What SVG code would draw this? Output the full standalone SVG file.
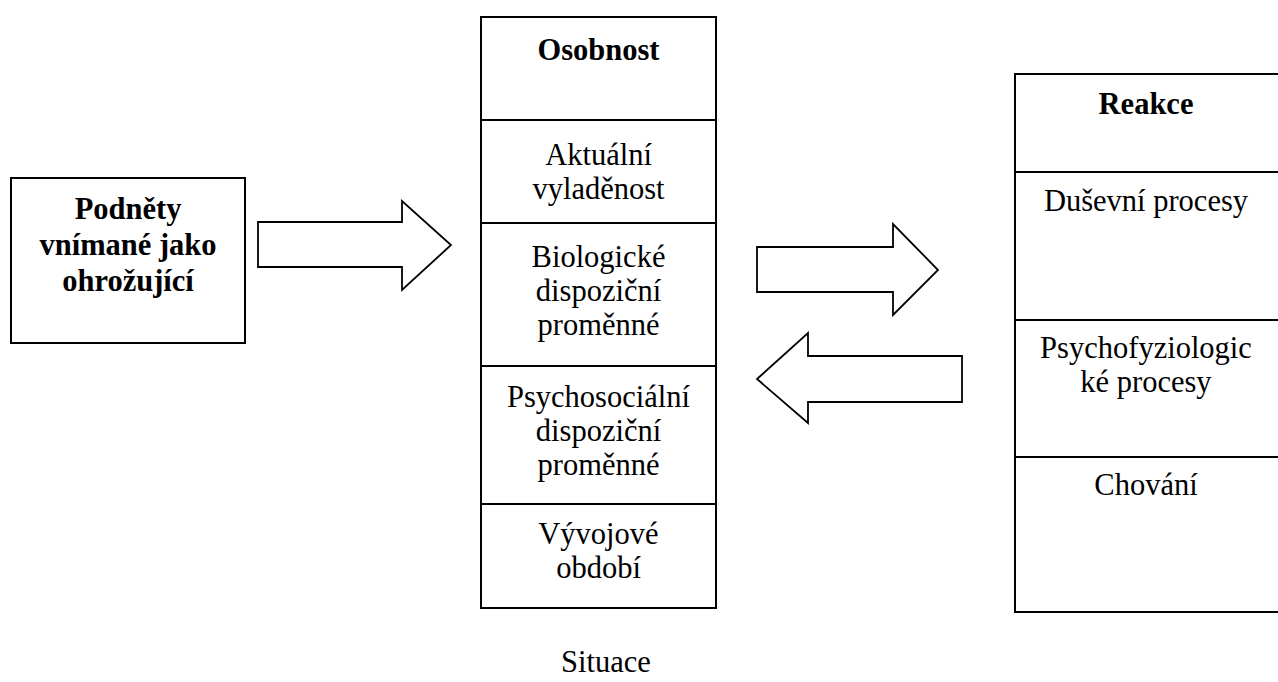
<svg xmlns="http://www.w3.org/2000/svg" width="1278" height="682" viewBox="0 0 1278 682">
<style>
.box{fill:#fff;stroke:#000;stroke-width:2}
.ln{stroke:#000;stroke-width:2}
.arr{fill:#fff;stroke:#000;stroke-width:1.8;stroke-linejoin:miter}
text{font-family:"Liberation Serif","Times New Roman",serif;font-size:30.5px;fill:#000;text-anchor:middle}
.b{font-weight:bold}
</style>
<rect width="1278" height="682" fill="#fff"/>
<g id="podnety">
<rect class="box" x="11" y="178" width="234" height="165"/>
<text class="b" x="128" y="219">Podněty</text>
<text class="b" x="128" y="255">vnímané jako</text>
<text class="b" x="128" y="291">ohrožující</text>
</g>
<g id="osobnost">
<rect class="box" x="481" y="17" width="235" height="591"/>
<line class="ln" x1="481" y1="120" x2="716" y2="120"/>
<line class="ln" x1="481" y1="223" x2="716" y2="223"/>
<line class="ln" x1="481" y1="366" x2="716" y2="366"/>
<line class="ln" x1="481" y1="504" x2="716" y2="504"/>
<text class="b" x="598.5" y="60">Osobnost</text>
<text x="598.5" y="165">Aktuální</text>
<text x="598.5" y="199">vyladěnost</text>
<text x="598.5" y="267">Biologické</text>
<text x="598.5" y="301">dispoziční</text>
<text x="598.5" y="335">proměnné</text>
<text x="598.5" y="407">Psychosociální</text>
<text x="598.5" y="441">dispoziční</text>
<text x="598.5" y="475">proměnné</text>
<text x="598.5" y="544">Vývojové</text>
<text x="598.5" y="578">období</text>
</g>
<g id="reakce">
<rect class="box" x="1015" y="74" width="270" height="538"/>
<line class="ln" x1="1015" y1="172" x2="1278" y2="172"/>
<line class="ln" x1="1015" y1="320" x2="1278" y2="320"/>
<line class="ln" x1="1015" y1="457" x2="1278" y2="457"/>
<text class="b" x="1146" y="114">Reakce</text>
<text x="1146" y="211">Duševní procesy</text>
<text x="1146" y="358">Psychofyziologic</text>
<text x="1146" y="392">ké procesy</text>
<text x="1146" y="495">Chování</text>
</g>
<g id="situace">
<text x="606" y="672">Situace</text>
</g>
<g id="connectors">
<polygon class="arr" points="258,222 402,222 402,201 451,245 402,290 402,267 258,267"/>
<polygon class="arr" points="757,247 893,247 893,224 938,270 893,315 893,292 757,292"/>
<polygon class="arr" points="962,356 808,356 808,333 757,379 808,423 808,402 962,402"/>
</g>
</svg>
